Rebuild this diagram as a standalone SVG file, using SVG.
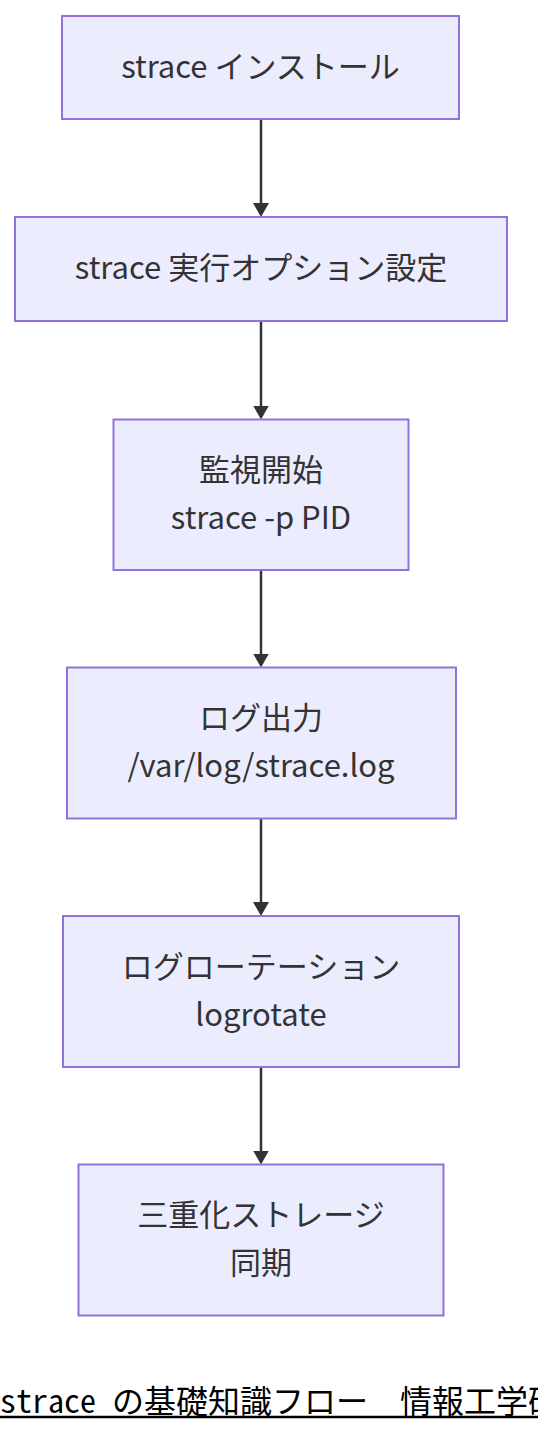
<svg xmlns="http://www.w3.org/2000/svg" width="538" height="1436" viewBox="0 0 538 1436">
<style>
.node rect{fill:#ECECFF;stroke:#9370DB;stroke-width:2}
.node text{font-family:"Noto Sans CJK JP","Noto Sans",sans-serif;font-size:31px;fill:#333;text-anchor:middle;dominant-baseline:central}
.edge{stroke:#333;stroke-width:2.5;fill:none;marker-end:url(#arrow)}
.caption{font-family:"Noto Sans Mono CJK JP","Liberation Mono","Noto Sans CJK JP",monospace;font-size:32px;fill:#000}
</style>
<defs>
<marker id="arrow" viewBox="0 0 14 16" refX="8" refY="8" markerWidth="14" markerHeight="16" markerUnits="userSpaceOnUse" orient="auto">
<path d="M0,0 L14,8 L0,16 z" fill="#333"/>
</marker>
</defs>
<rect width="538" height="1436" fill="#fff"/>
<g id="connectors">
<path class="edge" d="M261,119 L261,211"/>
<path class="edge" d="M261,321 L261,413.5"/>
<path class="edge" d="M261,570 L261,661.5"/>
<path class="edge" d="M261,818.5 L261,910"/>
<path class="edge" d="M261,1067 L261,1158.5"/>
</g>
<g id="n1" class="node"><rect x="62" y="16" width="397" height="103"/><text x="260.5" y="64">strace インストール</text></g>
<g id="n2" class="node"><rect x="15" y="217" width="492" height="104"/><text x="261" y="265.5">strace 実行オプション設定</text></g>
<g id="n3" class="node"><rect x="113.5" y="419.5" width="295" height="150.5"/><text x="261" y="467">監視開始</text><text x="261" y="515">strace -p PID</text></g>
<g id="n4" class="node"><rect x="67" y="667.5" width="389" height="151"/><text x="261" y="715.5">ログ出力</text><text x="261" y="763.5">/var/log/strace.log</text></g>
<g id="n5" class="node"><rect x="63" y="916" width="396" height="151"/><text x="261" y="964">ログローテーション</text><text x="261" y="1012">logrotate</text></g>
<g id="n6" class="node"><rect x="78.5" y="1164.5" width="365" height="151"/><text x="261" y="1212.5">三重化ストレージ</text><text x="261" y="1260.5">同期</text></g>
<text class="caption" x="0" y="1413">strace の基礎知識フロー　情報工学研</text>
<line x1="0" y1="1417" x2="538" y2="1417" stroke="#000" stroke-width="2.5"/>
</svg>
